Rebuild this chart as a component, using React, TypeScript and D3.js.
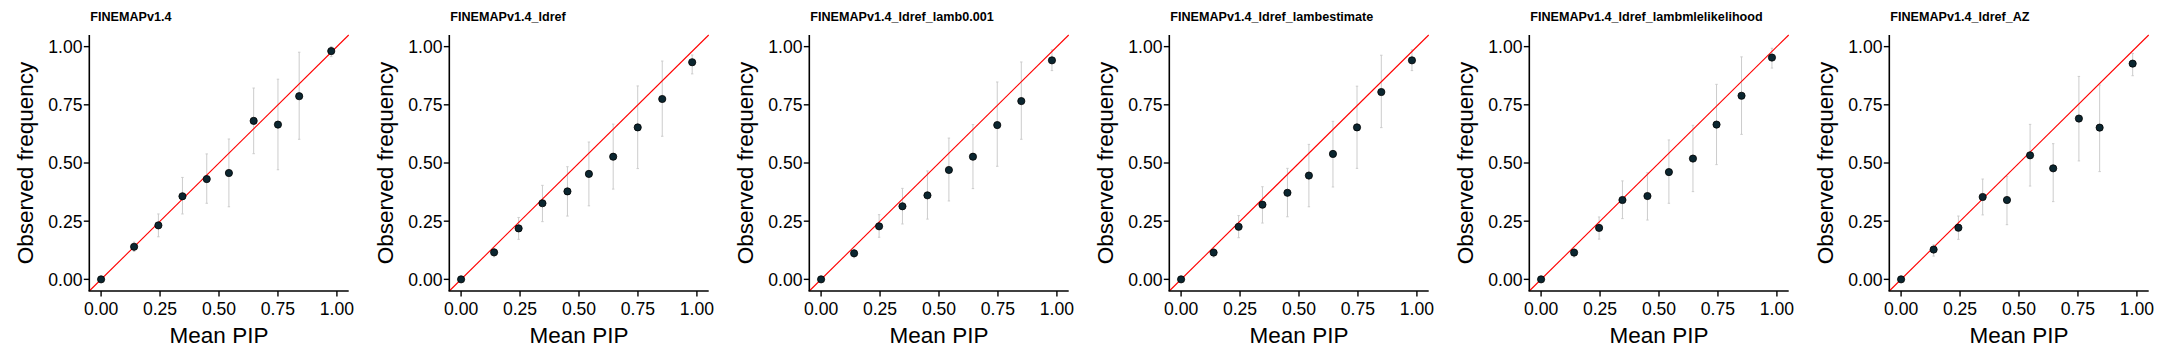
import React from "react";
import * as d3 from "d3";

const methods = [
  "FINEMAPv1.4",
  "FINEMAPv1.4_ldref",
  "FINEMAPv1.4_ldref_lamb0.001",
  "FINEMAPv1.4_ldref_lambestimate",
  "FINEMAPv1.4_ldref_lambmlelikelihood",
  "FINEMAPv1.4_ldref_AZ",
];

const meanPip = [
  [0, 0.14, 0.243, 0.345, 0.448, 0.542, 0.647, 0.75, 0.84, 0.976],
  [0, 0.14, 0.244, 0.345, 0.451, 0.542, 0.645, 0.749, 0.853, 0.98],
  [0, 0.14, 0.246, 0.345, 0.451, 0.542, 0.644, 0.747, 0.849, 0.979],
  [0, 0.138, 0.244, 0.345, 0.451, 0.542, 0.644, 0.746, 0.849, 0.979],
  [0, 0.14, 0.246, 0.345, 0.451, 0.542, 0.644, 0.744, 0.85, 0.979],
  [0, 0.138, 0.243, 0.346, 0.449, 0.547, 0.645, 0.754, 0.842, 0.982],
];

const observedFreq = [
  [0, 0.14, 0.232, 0.357, 0.431, 0.457, 0.681, 0.665, 0.787, 0.981],
  [0, 0.116, 0.219, 0.327, 0.378, 0.453, 0.527, 0.653, 0.775, 0.933],
  [0, 0.112, 0.228, 0.314, 0.361, 0.47, 0.527, 0.663, 0.766, 0.941],
  [0, 0.115, 0.226, 0.321, 0.372, 0.446, 0.539, 0.653, 0.805, 0.941],
  [0, 0.115, 0.221, 0.341, 0.358, 0.461, 0.519, 0.665, 0.789, 0.953],
  [0, 0.128, 0.222, 0.354, 0.341, 0.533, 0.477, 0.691, 0.652, 0.927],
];

const ciLower = [
  [0, 0.12, 0.183, 0.281, 0.327, 0.312, 0.54, 0.471, 0.602, 0.957],
  [0, 0.097, 0.172, 0.248, 0.272, 0.316, 0.388, 0.476, 0.615, 0.883],
  [0, 0.093, 0.181, 0.238, 0.259, 0.337, 0.39, 0.486, 0.602, 0.897],
  [0, 0.096, 0.179, 0.242, 0.269, 0.312, 0.397, 0.477, 0.652, 0.897],
  [0, 0.096, 0.173, 0.261, 0.255, 0.327, 0.377, 0.493, 0.623, 0.908],
  [0, 0.1, 0.172, 0.277, 0.235, 0.401, 0.334, 0.509, 0.463, 0.875],
];

const ciUpper = [
  [0, 0.16, 0.281, 0.438, 0.539, 0.603, 0.822, 0.86, 0.976, 1.0],
  [0, 0.133, 0.266, 0.404, 0.484, 0.59, 0.667, 0.831, 0.938, 0.964],
  [0, 0.129, 0.278, 0.391, 0.466, 0.607, 0.665, 0.848, 0.934, 0.986],
  [0, 0.133, 0.274, 0.398, 0.477, 0.58, 0.679, 0.83, 0.963, 0.986],
  [0, 0.132, 0.268, 0.423, 0.458, 0.599, 0.662, 0.838, 0.956, 0.993],
  [0, 0.148, 0.272, 0.431, 0.443, 0.666, 0.583, 0.872, 0.835, 0.971],
];

const tickValues = [0, 0.25, 0.5, 0.75, 1.0];
const tickLabels = ["0.00", "0.25", "0.50", "0.75", "1.00"];

const FONT = "'Liberation Sans', Arial, Helvetica, sans-serif";
const PANEL_W = 360;
const LEFT = 89.3;
const RIGHT = 348.7;
const TOP = 35;
const BOTTOM = 291;

function Panel({ idx }: { idx: number }) {
  const x = d3.scaleLinear().domain([-0.05, 1.05]).range([LEFT, RIGHT]);
  const y = d3.scaleLinear().domain([-0.05, 1.05]).range([BOTTOM, TOP]);
  const xs = meanPip[idx];
  const ys = observedFreq[idx];
  const lo = ciLower[idx];
  const hi = ciUpper[idx];
  const line = d3.line<number>().x((v) => x(v)).y((v) => y(v));
  return (
    <g transform={`translate(${idx * PANEL_W},0)`}>
      <text x={LEFT + 1} y={20.7} fontFamily={FONT} fontWeight="bold" fontSize={12.6} fill="#000">
        {methods[idx]}
      </text>
      {xs.map((xv, i) => (
        <g key={"e" + i} stroke="#cccccc" strokeWidth={1}>
          <line x1={x(xv)} x2={x(xv)} y1={y(lo[i])} y2={y(hi[i])} />
          <line x1={x(xv) - 1.2} x2={x(xv) + 1.2} y1={y(lo[i])} y2={y(lo[i])} />
          <line x1={x(xv) - 1.2} x2={x(xv) + 1.2} y1={y(hi[i])} y2={y(hi[i])} />
        </g>
      ))}
      <path d={line([-0.05, 1.05]) || ""} stroke="#ff0000" strokeWidth={1.1} fill="none" />
      {xs.map((xv, i) => (
        <circle key={"p" + i} cx={x(xv)} cy={y(ys[i])} r={3.6} fill="#0b2630" stroke="#000" strokeWidth={0.8} />
      ))}
      <line x1={LEFT} x2={LEFT} y1={TOP} y2={BOTTOM} stroke="#000" strokeWidth={1.6} />
      <line x1={LEFT - 0.8} x2={RIGHT} y1={BOTTOM} y2={BOTTOM} stroke="#000" strokeWidth={1.6} />
      {tickValues.map((t, i) => (
        <g key={"xt" + i}>
          <line x1={x(t)} x2={x(t)} y1={BOTTOM} y2={BOTTOM + 5.5} stroke="#000" strokeWidth={1.4} />
          <text x={x(t)} y={315} textAnchor="middle" fontFamily={FONT} fontSize={17.6} fill="#000">
            {tickLabels[i]}
          </text>
        </g>
      ))}
      {tickValues.map((t, i) => (
        <g key={"yt" + i}>
          <line x1={LEFT - 5.5} x2={LEFT} y1={y(t)} y2={y(t)} stroke="#000" strokeWidth={1.4} />
          <text x={82.5} y={y(t)} dy="0.36em" textAnchor="end" fontFamily={FONT} fontSize={17.6} fill="#000">
            {tickLabels[i]}
          </text>
        </g>
      ))}
      <text x={(LEFT + RIGHT) / 2} y={343} textAnchor="middle" fontFamily={FONT} fontSize={22.5} fill="#000">
        Mean PIP
      </text>
      <text
        transform={`translate(33,${(TOP + BOTTOM) / 2}) rotate(-90)`}
        textAnchor="middle"
        fontFamily={FONT}
        fontSize={22.5}
        fill="#000"
      >
        Observed frequency
      </text>
    </g>
  );
}

export default function App() {
  return (
    <svg
      width={2160}
      height={360}
      style={{ position: "absolute", left: 0, top: 0, display: "block", background: "#fff" }}
    >
      <rect width={2160} height={360} fill="#fff" />
      {methods.map((m, i) => (
        <Panel key={m} idx={i} />
      ))}
    </svg>
  );
}
